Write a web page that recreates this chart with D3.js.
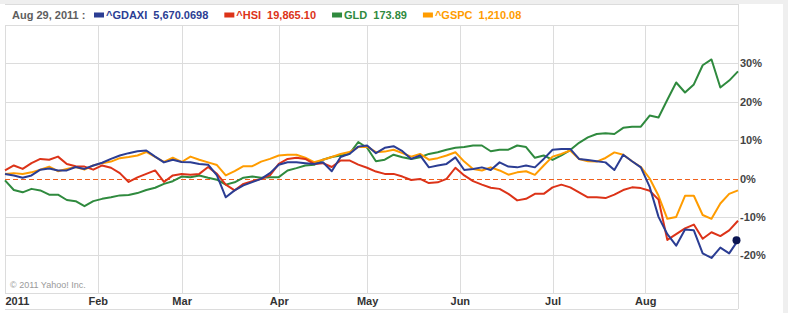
<!DOCTYPE html>
<html>
<head>
<meta charset="utf-8">
<script src="https://cdn.jsdelivr.net/npm/d3@7"></script>
<style>
  body { margin: 0; background: #efefef; }
  text { font-family: "Liberation Sans", Arial, sans-serif; }
</style>
</head>
<body>
<div id="wrapper"></div>
<script>
// values in % change, one sample every 2 trading days (Jan 3 .. Aug 29, 2011)
const gdaxi = [1.2, 0.8, 0.2, 0.8, 2.3, 2.6, 2.1, 2.1, 3.0, 2.5, 3.4, 4.1, 5.1, 6.0, 6.6, 7.1, 7.3, 5.7, 4.2, 4.9, 4.3,
  4.25, 3.8, 3.6, 0.8, -4.9, -3.1, -1.8, -0.95, -0.1, 1.4, 3.6, 4.25, 4.25, 4.0, 3.8, 4.25, 1.9, 5.6, 6.4, 8.3, 8.6,
  6.6, 8.0, 8.4, 7.1, 5.1, 6.0, 2.9, 3.4, 3.8, 5.5, 2.2, 2.5, 2.9, 2.2, 4.2, 3.1, 2.9, 3.4, 2.9, 5.1, 7.5,
  7.7, 7.7, 5.1, 4.8, 4.5, 4.2, 2.2, 6.2, 4.5, 2.9, -2.2, -10.0, -14.5, -17.5, -13.3, -13.5, -19.5, -20.7, -18.0, -19.5, -16.1];
const hsi = [2.1, 3.4, 2.5, 4.0, 5.1, 4.9, 5.7, 3.8, 3.2, 3.1, 2.3, 3.4, 2.8, 1.4, -0.9, 0.3, 1.2, 2.1, -0.9, 0.8, 1.2,
  1.0, 1.2, 3.0, 1.2, -1.6, -3.1, -1.4, -0.7, -0.1, 0.8, 3.8, 5.1, 5.4, 5.1, 3.8, 4.0, 3.0, 4.7, 4.7, 3.6, 2.8,
  1.8, 1.2, 1.2, 0.5, -0.4, -0.1, -1.2, -1.0, -0.1, 2.8, 0.8, -0.7, -1.6, -2.4, -2.7, -4.0, -5.7, -5.3, -4.0, -4.0, -2.3,
  -1.6, -2.3, -3.6, -4.9, -4.9, -5.1, -4.2, -3.0, -2.3, -2.5, -3.2, -5.5, -16.0, -14.5, -13.0, -12.0, -15.7, -14.0, -15.0, -13.5, -11.0];
const gld = [-0.5, -3.0, -3.6, -2.7, -3.1, -4.2, -4.2, -5.6, -5.9, -7.2, -5.9, -5.3, -4.9, -4.4, -4.3, -3.8, -3.0, -2.4, -1.4, -0.7, 0.5,
  0.35, 0.8, 0.2, -0.3, -1.6, -1.0, 0.2, 0.5, 0.2, 0.35, 0.35, 2.1, 2.7, 3.4, 3.55, 4.9, 5.6, 6.0, 6.4, 9.5, 8.0,
  4.5, 4.9, 6.2, 5.55, 5.1, 5.55, 6.4, 6.85, 7.5, 8.0, 8.2, 8.6, 8.6, 7.1, 7.5, 7.5, 8.6, 8.2, 5.4, 6.0, 4.85,
  6.0, 7.4, 9.3, 10.7, 11.6, 11.8, 11.6, 13.2, 13.5, 13.5, 16.4, 15.9, 20.5, 25.0, 22.4, 24.5, 29.5, 31.0, 23.7, 25.5, 27.9];
const gspc = [1.2, 1.4, 1.2, 1.6, 2.3, 3.1, 1.9, 2.5, 3.0, 2.3, 3.4, 4.0, 4.4, 5.3, 5.6, 6.0, 6.9, 5.6, 4.3, 5.4, 4.3,
  5.7, 4.9, 4.2, 3.5, 0.8, 1.9, 3.2, 3.2, 4.4, 5.1, 6.0, 6.2, 6.2, 5.4, 4.25, 4.9, 5.6, 6.4, 6.9, 8.2, 8.3,
  6.85, 7.0, 7.5, 6.6, 5.7, 6.4, 4.9, 5.3, 6.0, 6.85, 4.4, 2.5, 2.1, 2.9, 2.1, 1.0, 1.6, 1.9, 0.95, 3.4, 5.7,
  6.4, 7.3, 5.1, 4.5, 4.4, 5.35, 6.8, 6.2, 4.5, 3.0, 0.0, -4.5, -10.5, -10.0, -4.5, -4.5, -9.5, -10.5, -6.5, -4.0, -3.1];

const seriesNames = ["^GDAXI", "^HSI", "GLD", "^GSPC"];
const lastValues = ["5,670.0698", "19,865.10", "173.89", "1,210.08"];
const seriesColors = ["#2b3d93", "#dc3318", "#2f8a3e", "#ff9c00"];
const dateLabel = "Aug 29, 2011 :";

// month labels at trading-day index of first session
const monthLabels = ["2011", "Feb", "Mar", "Apr", "May", "Jun", "Jul", "Aug"];
const monthDays = [0, 21, 40, 62, 82, 103, 124, 145];
const yTicks = [-20, -10, 0, 10, 20, 30];
const lastDay = 166;

const dimensions = {width: 788, height: 313, left: 5, right: 738, top: 25, plotBottom: 293, axisBottom: 309};

const svg = d3.select("#wrapper").append("svg")
  .attr("width", dimensions.width)
  .attr("height", dimensions.height)
  .style("display", "block");

svg.append("rect").attr("width", dimensions.width).attr("height", dimensions.height).attr("fill", "#efefef");
svg.append("rect").attr("x", 0).attr("y", 4).attr("width", 783).attr("height", dimensions.height - 4).attr("fill", "#fff");

const xScale = d3.scaleLinear().domain([0, lastDay]).range([dimensions.left, dimensions.right]);
const yScale = d3.scaleLinear().domain([-20, 30]).range([255.3, 63.3]);

// grid
const grid = svg.append("g").attr("stroke", "#dcdcdc").attr("shape-rendering", "crispEdges");
grid.selectAll(".h").data(yTicks.filter(d => d !== 0)).enter().append("line")
  .attr("x1", dimensions.left).attr("x2", dimensions.right)
  .attr("y1", d => Math.round(yScale(d)) + 0.5).attr("y2", d => Math.round(yScale(d)) + 0.5);
grid.selectAll(".v").data(monthDays).enter().append("line")
  .attr("x1", d => Math.round(xScale(d)) + 0.5).attr("x2", d => Math.round(xScale(d)) + 0.5)
  .attr("y1", dimensions.top).attr("y2", dimensions.plotBottom);
// box
grid.append("line").attr("x1", 5).attr("x2", dimensions.right).attr("y1", 4.5).attr("y2", 4.5);
grid.append("line").attr("x1", 5).attr("x2", dimensions.right).attr("y1", dimensions.top + 0.5).attr("y2", dimensions.top + 0.5);
grid.append("line").attr("x1", 5).attr("x2", dimensions.right).attr("y1", dimensions.plotBottom + 0.5).attr("y2", dimensions.plotBottom + 0.5);
grid.append("line").attr("x1", 5).attr("x2", dimensions.right).attr("y1", dimensions.axisBottom + 0.5).attr("y2", dimensions.axisBottom + 0.5);
grid.append("line").attr("x1", dimensions.right + 0.5).attr("x2", dimensions.right + 0.5).attr("y1", 4).attr("y2", dimensions.axisBottom);

// zero line
svg.append("line")
  .attr("x1", dimensions.left).attr("x2", dimensions.right)
  .attr("y1", Math.round(yScale(0)) + 0.5).attr("y2", Math.round(yScale(0)) + 0.5)
  .attr("stroke", "#f0601e").attr("stroke-width", 1.2)
  .attr("shape-rendering", "crispEdges")
  .attr("stroke-dasharray", "5,3");

// y axis on the right
const yAxis = d3.axisRight(yScale).tickValues(yTicks).tickSize(0).tickPadding(2).tickFormat(d => d + "%");
const yAxisG = svg.append("g").attr("transform", `translate(${dimensions.right},0)`).call(yAxis);
yAxisG.select(".domain").remove();
yAxisG.selectAll("text")
  .style("font-family", "'Liberation Sans', Arial, sans-serif")
  .style("font-size", "11px").style("font-weight", "bold").attr("fill", "#444");

// x axis (month labels)
const xAxis = d3.axisBottom(xScale).tickValues(monthDays).tickSize(0).tickPadding(0)
  .tickFormat((d, i) => monthLabels[i]);
const xAxisG = svg.append("g").attr("transform", `translate(0,${dimensions.plotBottom})`).call(xAxis);
xAxisG.select(".domain").remove();
xAxisG.selectAll("text")
  .style("font-family", "'Liberation Sans', Arial, sans-serif")
  .style("font-size", "11px").style("font-weight", "bold").attr("fill", "#333")
  .attr("dy", "1.05em")
  .attr("text-anchor", (d, i) => i === 0 ? "start" : "middle");

// copyright
svg.append("text").attr("x", 10).attr("y", 288)
  .style("font-size", "9px").attr("fill", "#9a9a9a").text("\u00a9 2011 Yahoo! Inc.");

// lines
const allSeries = [gdaxi, hsi, gld, gspc];
const line = d3.line().x((d, i) => xScale(i * 2)).y(d => yScale(d));
const drawOrder = [2, 3, 1, 0];
drawOrder.forEach(k => {
  svg.append("path")
    .datum(allSeries[k])
    .attr("fill", "none")
    .attr("stroke", seriesColors[k])
    .attr("stroke-width", 2)
    .attr("stroke-linejoin", "round")
    .attr("d", line);
});

// end marker for the first series
svg.append("circle")
  .attr("cx", xScale((gdaxi.length - 1) * 2) - 1.5)
  .attr("cy", yScale(gdaxi[gdaxi.length - 1]))
  .attr("r", 4).attr("fill", "#0b1552");

// legend
const legend = svg.append("g");
const dateText = legend.append("text").attr("x", 12).attr("y", 19)
  .style("font-size", "11px").style("font-weight", "bold").attr("fill", "#5e5e5e").text(dateLabel);
let lx = 94;
seriesNames.forEach((name, i) => {
  legend.append("rect").attr("x", lx).attr("y", 12.5).attr("width", 10).attr("height", 5).attr("fill", seriesColors[i]);
  const t = legend.append("text").attr("x", lx + 12).attr("y", 19)
    .style("font-size", "11px").style("font-weight", "bold").attr("fill", seriesColors[i]);
  t.append("tspan").text(name);
  t.append("tspan").attr("dx", 6).text(lastValues[i]);
  lx += 12 + t.node().getComputedTextLength() + 22;
});
</script>
</body>
</html>
